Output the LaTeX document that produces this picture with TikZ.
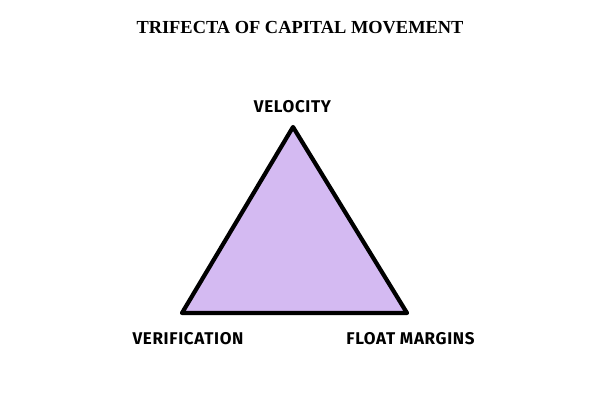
\documentclass[tikz,border=0pt]{standalone}
\usepackage{fontspec}
\setmainfont{Liberation Serif}
\newfontfamily\labelfont[LetterSpace=4]{Fira Sans}
\definecolor{lav}{RGB}{212,186,242}
\begin{document}
\begin{tikzpicture}[x=1pt,y=-1pt,
  vlabel/.style={font=\labelfont\bfseries\fontsize{17}{20}\selectfont, inner sep=0pt, anchor=center},
  ttl/.style={font=\bfseries\fontsize{18.4}{21}\selectfont, inner sep=0pt, anchor=center}]
\useasboundingbox[fill=white] (0,0) rectangle (600,400);
\node[ttl] (title) at (300,28) {TRIFECTA OF CAPITAL MOVEMENT};
\coordinate (top) at (293,127);
\coordinate (bl) at (182,313);
\coordinate (br) at (407,313);
\filldraw[fill=lav, draw=black, line width=4.2pt, line join=round] (top) -- (br) -- (bl) -- cycle;
\node[vlabel] (vel) at (292.5,106.5) {VELOCITY};
\node[vlabel] (ver) at (188,338.5) {VERIFICATION};
\node[vlabel] (flt) at (410.5,338.5) {FLOAT MARGINS};
\end{tikzpicture}
\end{document}
